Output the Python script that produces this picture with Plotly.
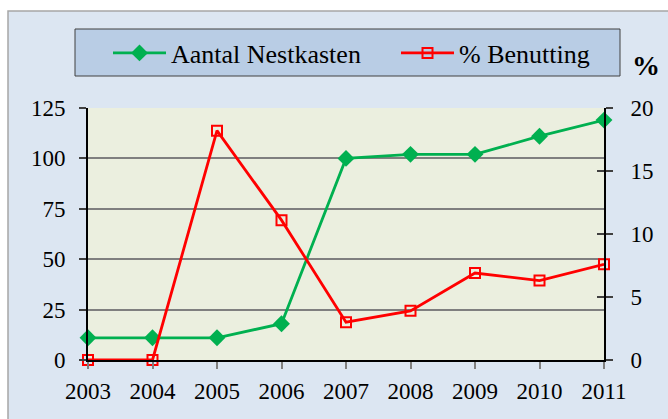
import plotly.graph_objects as go

years = [2003, 2004, 2005, 2006, 2007, 2008, 2009, 2010, 2011]
nestkasten = [11, 11, 11, 18, 100, 102, 102, 111, 119]
benutting = [0, 0, 18.2, 11.1, 3.0, 3.9, 6.9, 6.3, 7.6]
left_ticks = [0, 25, 50, 75, 100, 125]
right_ticks = [0, 5, 10, 15, 20]

W, H = 668, 419
L, R, T, B = 88, 64, 108, 59
pw, ph = W - L - R, H - T - B

def px(x):
    return (x - L) / pw

def py(y):
    return (H - B - y) / ph

FONT = "Liberation Serif, Times New Roman, serif"
GREEN = "#00B050"
RED = "#FF0000"
TICKFONT = dict(family=FONT, size=23, color="black")
LEGFONT = dict(family=FONT, size=26, color="black")

fig = go.Figure()
fig.add_trace(go.Scatter(
    x=years, y=nestkasten, name="Aantal Nestkasten", mode="lines+markers",
    line=dict(color=GREEN, width=2.8),
    marker=dict(symbol="diamond", size=13, color=GREEN),
    cliponaxis=False, yaxis="y", legend="legend"))
fig.add_trace(go.Scatter(
    x=years, y=benutting, name="% Benutting", mode="lines+markers",
    line=dict(color=RED, width=2.8),
    marker=dict(symbol="square-open", size=10, color=RED, line=dict(width=2, color=RED)),
    cliponaxis=False, yaxis="y2", legend="legend2"))

shapes = [
    dict(type="rect", xref="paper", yref="paper", layer="below",
         x0=px(8), x1=px(700), y0=py(440), y1=py(11),
         fillcolor="#DCE6F2", line=dict(color="#A6A6A6", width=1.5)),
    dict(type="rect", xref="paper", yref="paper", layer="below",
         x0=0, x1=1, y0=0, y1=1, fillcolor="#EBEFDF", line=dict(width=0)),
    dict(type="rect", xref="paper", yref="paper", layer="below",
         x0=px(75), x1=px(620), y0=py(76), y1=py(29),
         fillcolor="#B9CDE5", line=dict(color="#404040", width=1)),
]

leg_common = dict(orientation="h", xanchor="left", yanchor="middle",
                  bgcolor="rgba(0,0,0,0)", borderwidth=0, font=LEGFONT, itemwidth=53)

fig.update_layout(
    width=W, height=H,
    margin=dict(l=L, r=R, t=T, b=B, pad=0),
    paper_bgcolor="white", plot_bgcolor="rgba(0,0,0,0)",
    font=dict(family=FONT, size=23, color="black"),
    shapes=shapes,
    showlegend=True,
    legend=dict(x=px(108), y=py(53), **leg_common),
    legend2=dict(x=px(396), y=py(53), **leg_common),
    xaxis=dict(range=[2003, 2011], tickmode="array", tickvals=years,
               ticktext=[str(y) for y in years], showgrid=False, zeroline=False,
               showline=True, linecolor="black", linewidth=2,
               ticks="outside", ticklen=7, tickcolor="#808080", tickwidth=1.5,
               tickfont=TICKFONT, ticklabelstandoff=2),
    yaxis=dict(range=[0, 125], tickmode="array", tickvals=left_ticks, showgrid=True,
               gridcolor="#7F7F7F", gridwidth=1.5, zeroline=False,
               showline=True, linecolor="black", linewidth=2,
               ticks="outside", ticklen=7, tickcolor="#404040", tickwidth=1.5,
               tickfont=TICKFONT, ticklabelstandoff=9),
    yaxis2=dict(range=[0, 20], tickmode="array", tickvals=right_ticks, overlaying="y",
                side="right", showgrid=False, zeroline=False,
                showline=True, linecolor="black", linewidth=2,
                ticks="outside", ticklen=7, tickcolor="#404040", tickwidth=1.5,
                tickfont=TICKFONT, ticklabelstandoff=13),
    yaxis3=dict(range=[0, 20], tickmode="array", tickvals=right_ticks, overlaying="y",
                side="right", showgrid=False, zeroline=False, showline=False,
                ticks="inside", ticklen=7, tickcolor="#404040", tickwidth=1.5,
                showticklabels=False),
    annotations=[dict(text="<b>%</b>", xref="paper", yref="paper", x=px(646), y=py(66),
                      xanchor="center", yanchor="middle", showarrow=False,
                      font=dict(family=FONT, size=28, color="black"))],
)
fig.add_trace(go.Scatter(x=[years[0]], y=[0], yaxis="y3", mode="markers",
                         marker=dict(opacity=0), showlegend=False, hoverinfo="skip"))

fig.write_html("out.html", config={"displayModeBar": False},
               post_script="document.body.style.margin='0';")
